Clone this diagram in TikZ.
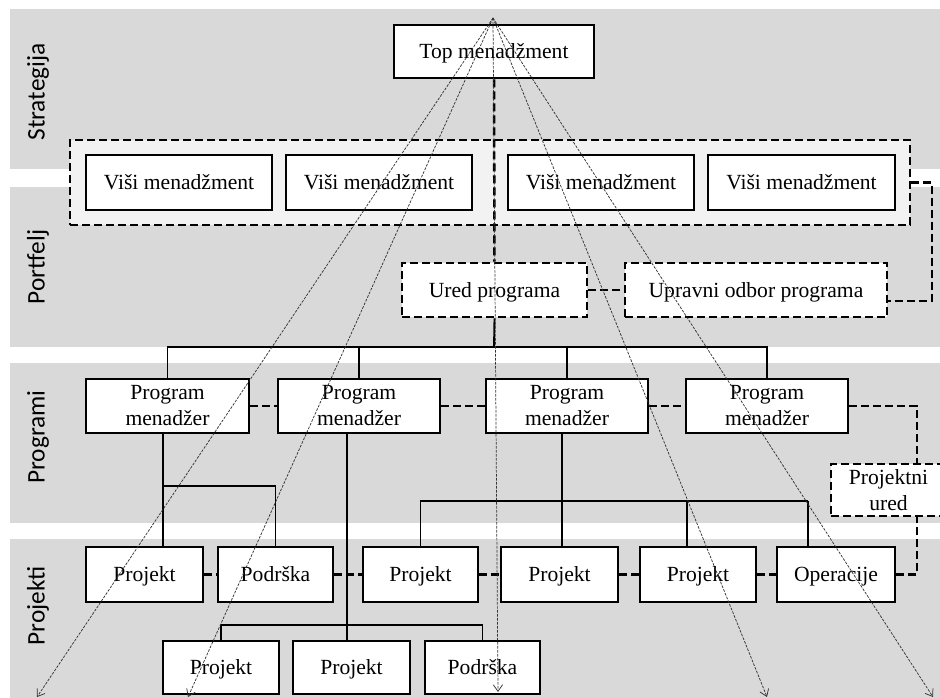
\documentclass[tikz,border=0pt]{standalone}
\usepackage{fontspec}
\setmainfont{Liberation Serif}
\newfontfamily\labelfont{Carlito}
\usetikzlibrary{arrows.meta}
\definecolor{bandgray}{HTML}{D9D9D9}
\definecolor{framegray}{HTML}{F2F2F2}
\begin{document}
\begin{tikzpicture}[x=0.75pt,y=-0.75pt,
	box/.style={draw,line width=2.1pt,fill=white,inner sep=0pt,align=center,
		font=\fontsize{16.2}{19.5}\selectfont,minimum height=0.75*54pt},
	oneline/.style={text height=12.5pt,text depth=1.5pt},
	dbox/.style={box,dash pattern=on 6pt off 3pt},
	w/.style={minimum width=#1*0.75pt},
	tree/.style={line width=1.4pt},
	dlink/.style={line width=1.9pt,dash pattern=on 6pt off 3pt},
	fan/.style={line width=0.55pt,draw=black!80,dash pattern=on 2pt off 1pt,
		-{Straight Barb[length=5pt,width=7pt]}},
	lab/.style={font=\labelfont\fontsize{19}{22}\selectfont,rotate=90}]
	\useasboundingbox (0,0) rectangle (940,698);
	% pojasevi
	\fill [bandgray] (10,9) rectangle (940,169);
	\fill [bandgray] (10,187) rectangle (940,347);
	\fill [bandgray] (10,363) rectangle (940,523);
	\fill [bandgray] (10,539) rectangle (940,698);
	\node [lab] (strat) at (38,92) {Strategija};
	\node [lab] (portf) at (38,267) {Portfelj};
	\node [lab] (progr) at (38,437) {Programi};
	\node [lab] (proj) at (38,606) {Projekti};
	% strategija i portfelj
	\node [dbox,fill=framegray,w=840,minimum height=0.75*85pt] (visi) at (490,182.5) {};
	\node [box,oneline,w=200,minimum height=0.75*53pt] (top) at (494,51.5) {Top menadžment};
	\node [box,oneline,w=186,minimum height=0.75*55pt] (v1) at (179,182.5) {Viši menadžment};
	\node [box,oneline,w=186,minimum height=0.75*55pt] (v2) at (379,182.5) {Viši menadžment};
	\node [box,oneline,w=186,minimum height=0.75*55pt] (v3) at (601,182.5) {Viši menadžment};
	\node [box,oneline,w=187,minimum height=0.75*55pt] (v4) at (801.5,182.5) {Viši menadžment};
	\node [dbox,oneline,w=185] (ured) at (494.5,290) {Ured programa};
	\node [dbox,oneline,w=262] (upravni) at (756,290) {Upravni odbor programa};
	% programi
	\node [box,w=163] (pm1) at (167.5,406) {Program\\menadžer};
	\node [box,w=162] (pm2) at (359,406) {Program\\menadžer};
	\node [box,w=162] (pm3) at (567,406) {Program\\menadžer};
	\node [box,w=162] (pm4) at (767,406) {Program\\menadžer};
	\node [dbox,w=115,minimum height=0.75*52pt] (pured) at (888.5,490) {Projektni\\ured};
	% projekti
	\node [box,oneline,w=117,minimum height=0.75*55pt] (p1) at (144.5,574.5) {Projekt};
	\node [box,oneline,w=115,minimum height=0.75*55pt] (pod1) at (275.5,574.5) {Podrška};
	\node [box,oneline,w=115,minimum height=0.75*55pt] (p2) at (420.5,574.5) {Projekt};
	\node [box,oneline,w=117,minimum height=0.75*55pt] (p3) at (559.5,574.5) {Projekt};
	\node [box,oneline,w=116,minimum height=0.75*55pt] (p4) at (698,574.5) {Projekt};
	\node [box,oneline,w=118,minimum height=0.75*55pt] (op) at (836,574.5) {Operacije};
	\node [box,oneline,w=116,minimum height=0.75*53pt] (p5) at (221,667.5) {Projekt};
	\node [box,oneline,w=117,minimum height=0.75*53pt] (p6) at (351.5,667.5) {Projekt};
	\node [box,oneline,w=115,minimum height=0.75*53pt] (pod2) at (482.5,667.5) {Podrška};
	% stablo
	\coordinate (busA) at (494,347);
	\draw [tree] (ured.south) -- (busA);
	\foreach \n in {pm1,pm2,pm3,pm4}
		\draw [tree] (\n.north) |- (busA);
	\coordinate (t1) at (163,486);
	\draw [tree] (pm1.south -| t1) -- (p1.north -| t1);
	\draw [tree] (t1) -| (pod1.north);
	\coordinate (t2) at (347,625);
	\draw [tree] (pm2.south -| t2) -- (p6.north -| t2);
	\draw [tree] (p5.north) |- (t2) -| (pod2.north);
	\coordinate (t3) at (562,501);
	\coordinate (d4) at (687,501);
	\coordinate (d5) at (808,501);
	\draw [tree] (pm3.south -| t3) -- (p3.north -| t3);
	\draw [tree] (p2.north) |- (t3) -- (d5);
	\draw [tree] (d4) -- (p4.north -| d4);
	\draw [tree] (d5) -- (op.north -| d5);
	% isprekidane veze
	\draw [dlink] (top) -- (ured);
	\draw [dlink] (ured) -- (upravni);
	\coordinate (r1) at (932,301);
	\draw [dlink] (visi.east) -| (r1) -- (upravni.east |- r1);
	\foreach \a/\b in {pm1/pm2,pm2/pm3,pm3/pm4,p1/pod1,pod1/p2,p2/p3,p3/p4,p4/op}
		\draw [dlink] (\a) -- (\b);
	\coordinate (r2) at (917,577);
	\draw [dlink] (pm4.east) -| (pured.north -| r2);
	\draw [dlink] (op.east) -| (pured.south -| r2);
	% lepeza
	\coordinate (apex) at (493,18);
	\coordinate (f1) at (37,697);
	\coordinate (f2) at (188,697);
	\coordinate (f3) at (498,692);
	\coordinate (f4) at (767,697);
	\coordinate (f5) at (933,697);
	\foreach \i in {1,...,5}
		\draw [fan] (apex) -- (f\i);
\end{tikzpicture}
\end{document}
